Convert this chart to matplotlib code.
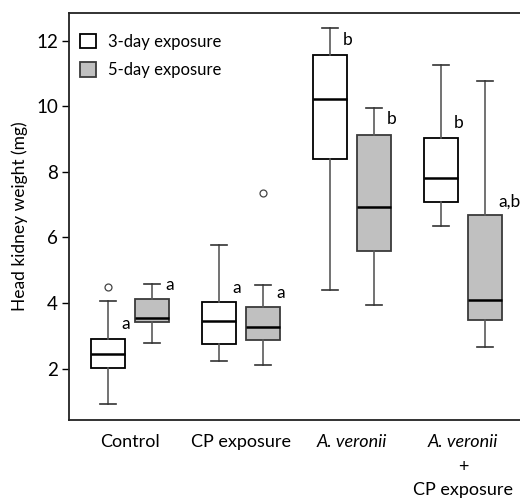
import matplotlib
matplotlib.use("Agg")
import matplotlib.pyplot as plt
from matplotlib.patches import Patch
from matplotlib.transforms import blended_transform_factory

plt.rcParams['font.family'] = ['Lato', 'DejaVu Sans']

groups = ["Control", "CP exposure", "A. veronii", "A. veronii"]
series = ["3-day exposure", "5-day exposure"]

# 3-day exposure: whislo, q1, median, q3, whishi
d3_lo  = [0.91, 2.22, 4.41, 6.34]
d3_q1  = [2.03, 2.76, 8.39, 7.08]
d3_med = [2.45, 3.44, 10.23, 7.83]
d3_q3  = [2.91, 4.02, 11.58, 9.03]
d3_hi  = [4.05, 5.76, 12.39, 11.27]
d3_fliers = [[4.48], [], [], []]
d3_letters = ["a", "a", "b", "b"]
d3_letter_y = [3.35, 4.46, 12.03, 9.5]

# 5-day exposure
d5_lo  = [2.78, 2.11, 3.93, 2.66]
d5_q1  = [3.43, 2.86, 5.60, 3.49]
d5_med = [3.55, 3.28, 6.92, 4.10]
d5_q3  = [4.11, 3.88, 9.14, 6.70]
d5_hi  = [4.59, 4.56, 9.95, 10.76]
d5_fliers = [[], [7.36], [], []]
d5_letters = ["a", "a", "b", "a,b"]
d5_letter_y = [4.55, 4.31, 9.62, 7.08]

yticks = [2, 4, 6, 8, 10, 12]

fig = plt.figure(figsize=(5.2, 4.99), dpi=100)
ax = fig.add_axes([69/520, 1-420/499, 1-69/520, (420-13)/499])

def stats(lo, q1, med, q3, hi, fl):
    return [dict(whislo=a, q1=b, med=c, q3=d, whishi=e, fliers=f)
            for a, b, c, d, e, f in zip(lo, q1, med, q3, hi, fl)]

centers = [1, 2, 3, 4]
off = 0.198
width = 0.30
whisk_col = "#5a5a5a"

def draw(st, pos, face, edge):
    ax.bxp(st, positions=pos, widths=width, patch_artist=True, showfliers=True,
           capwidths=0.15,
           boxprops=dict(facecolor=face, edgecolor=edge, linewidth=1.3),
           medianprops=dict(color="black", linewidth=1.8),
           whiskerprops=dict(color=whisk_col, linewidth=1.2),
           capprops=dict(color="#333333", linewidth=1.2),
           flierprops=dict(marker="o", markersize=5, markerfacecolor="none",
                           markeredgecolor="#444444", markeredgewidth=0.9))

pos3 = [c - off for c in centers]
pos5 = [c + off for c in centers]
draw(stats(d3_lo, d3_q1, d3_med, d3_q3, d3_hi, d3_fliers), pos3, "white", "black")
draw(stats(d5_lo, d5_q1, d5_med, d5_q3, d5_hi, d5_fliers), pos5, "#c0c0c0", "#3a3a3a")

fs = 12.5
for p, t, y in zip(pos3, d3_letters, d3_letter_y):
    ax.text(p + 0.157, y, t, ha="center", va="center", fontsize=fs)
for p, t, y in zip(pos5, d5_letters, d5_letter_y):
    ax.text(p + 0.157 + (0.06 if "," in t else 0), y, t, ha="center", va="center", fontsize=fs)

ax.set_xlim(0.45, 4.514)
ax.set_ylim(0.43, 12.85)
ax.set_yticks(yticks)
ax.set_yticklabels([str(v) for v in yticks])
ax.tick_params(axis="y", length=5, width=1, labelsize=13.5, pad=3)
ax.set_xticks(centers)
ax.set_xticklabels(groups)
ax.tick_params(axis="x", length=0, labelsize=13, pad=10)
for lab in ax.get_xticklabels()[2:]:
    lab.set_style("italic")
ax.spines["right"].set_visible(False)
for s in ["left", "bottom", "top"]:
    ax.spines[s].set_linewidth(1.3)
    ax.spines[s].set_color("#222222")

tr = blended_transform_factory(ax.transData, fig.transFigure)
ax.text(4, 1 - 467/499, "+", transform=tr, ha="center", va="center", fontsize=13)
ax.text(4, 1 - 490/499, "CP exposure", transform=tr, ha="center", va="center", fontsize=13)

ax.set_ylabel("Head kidney weight (mg)", fontsize=12.5, labelpad=6)

handles = [Patch(facecolor="white", edgecolor="black", linewidth=1.3, label=series[0]),
           Patch(facecolor="#c0c0c0", edgecolor="#3a3a3a", linewidth=1.3, label=series[1])]
ax.legend(handles=handles, loc="upper left", bbox_to_anchor=(-0.012, 0.99), frameon=False,
          handlelength=0.95, handleheight=0.95, handletextpad=0.7, labelspacing=0.75,
          fontsize=12, borderaxespad=0.6)

fig.savefig("out.png", dpi=100)
